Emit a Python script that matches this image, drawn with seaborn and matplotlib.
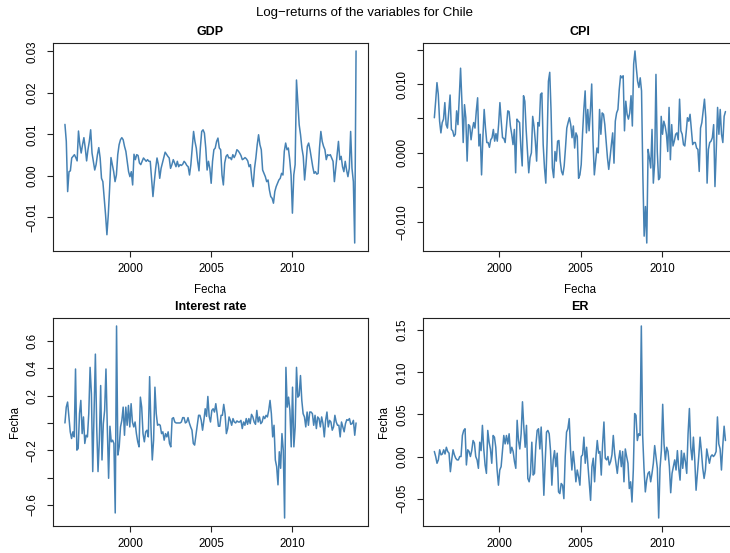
import numpy as np
import matplotlib
matplotlib.use("Agg")
import matplotlib.pyplot as plt
import seaborn as sns

# log-returns (monthly, 1996-01 .. 2013-12)
gdp = np.array([
    12.4, 8.3, -3.8, 1.0, 1.2, 4.3, 4.7, 5.1, 4.4, 3.6,
    10.8, 7.5, 5.5, 7.5, 9.2, 6.7, 3.6, 6.3, 8.3, 11.1,
    5.5, 3.5, 1.4, 2.7, 5.1, 6.8, 4.3, -0.6, -1.4, -5.4,
    -9.4, -14.2, -9.4, -3.0, 4.4, 2.7, 1.0, -1.4, 0.2, 5.1,
    7.5, 8.7, 9.2, 8.7, 7.1, 5.9, 3.5, 1.0, -0.2, 1.0,
    -2.2, 5.2, 3.9, 5.1, 4.9, 3.1, 2.7, 3.5, 4.3, 3.9,
    3.5, 3.9, 3.5, 3.5, -0.6, -5.0, -1.4, 1.8, 4.3, 2.7,
    -0.6, 1.8, 3.1, 4.3, 5.7, 5.2, 4.7, 4.3, 1.8, 2.7,
    3.9, 3.1, 2.2, 3.5, 2.2, 2.7, 2.5, 2.8, 3.5, 3.1,
    2.5, 2.2, 0.2, 2.7, 6.7, 10.7, 8.3, 6.7, 3.5, 1.2,
    6.7, 10.7, 11.1, 10.3, 6.7, 1.4, 3.5, 1.8, -1.8, 3.5,
    6.3, 6.7,
    8.3, 9.1, 6.7, 6.3, 0.2, -2.2, 3.1, 4.7, 5.1, 4.3,
    4.4, 3.9, 5.1, 4.4, 5.1, 6.3, 6.0, 5.5, 4.9, 3.9,
    4.1, 4.4, 4.1, 3.6, 2.2, 2.7, -0.6, -2.6, 1.8, 4.3,
    7.5, 9.9, 7.5, 6.3, 1.4, 0.6, -0.2, -1.4, -1.0, -3.4,
    -5.0, -5.4, -6.6, -3.8, -2.6, -1.8, -1.0, -0.6, 0.6, 0.2,
    5.9, 7.9, 6.3, 6.7, 3.9, 0.2, -9.0, 0.2, 2.7, 23.1,
    17.9, 12.3, 9.9, 6.7, 4.7, -1.0, 2.7, 7.1, 7.9, 6.3,
    4.3, 2.2, 0.6, 1.0, 0.4, 0.6, 6.7, 10.7, 8.3, 7.1,
    6.3, 3.9, 5.1, 4.9, 5.1, 4.3, 3.5, -1.4, 1.8, 5.1,
    8.3, 3.9, 4.7, 2.2, 1.0, 3.5, 1.4, -0.2, 1.8, 10.7,
    1.8, -1.4, -16.2, 30.1,
]) / 1000

cpi = np.array([
    5.1, 7.5, 10.2, 8.5, 4.6, 2.9, 4.4, 4.9, 7.3, 4.1,
    3.6, 6.1, 8.4, 3.4, 3.2, 2.4, 2.7, 6.1, 4.1, 8.0,
    12.3, 7.5, 1.5, 7.0, 5.1, -1.2, 4.1, 3.9, 1.9, 3.4,
    4.4, 3.6, 6.1, 8.0, 1.0, 2.7, -3.2, 2.2, 6.3, 3.6,
    1.5, 1.5, 0.8, 1.9, 2.2, 3.4, 1.7, 2.8, 1.7, 4.1,
    7.3, 4.6, 2.2, 2.1, 1.5, 3.9, 6.1, 6.0, 3.9, 2.7,
    1.2, 3.4, -2.9, 4.9, 4.6, 4.4, 0.7, -1.9, 8.3, 7.5,
    3.4, 0.2, -2.9, -0.7, 0.0, 5.3, 3.9, 1.7, -1.2, 4.4,
    3.9, 8.5, 8.7, 1.2, -2.2, -4.4, 1.7, 10.4,
    11.7, 6.1, -2.2, -3.6, 0.2, -1.2, 1.7, 1.8, -1.2, -2.7,
    -3.2, -1.9, 0.7, 3.6, 4.4, 5.1, 4.1, 2.2, 3.9, 0.7,
    2.9, 2.4, -3.7, -3.2, -1.7, 2.7, 6.3, 9.0, 2.9, 6.3,
    3.2, 6.1, 10.0, 1.7, -3.2, -1.2, 0.7, 0.0, 6.3, 2.7,
    5.8, 5.6, 4.1, 1.7, -0.7, -2.4, -0.7, 1.2, 2.9, -1.5,
    4.6, 5.8, 6.3, 9.2, 11.2, 10.9, 11.2, 3.2, 7.5, 5.6,
    4.9, 5.8, 8.3, 3.9, 12.9, 14.8, 12.4, 10.4, 9.5, 10.9,
    9.0, -3.2, -12.1, -7.8, -13.1, 0.5, -0.7, -2.2, 3.4, -4.4,
    -1.5, 11.4, 0.2, -3.9, -3.6, 5.3, 2.7, 4.6, 3.9, 2.7,
    0.2, 6.6, -1.0, 4.1, 1.0, 1.7, 2.7, 2.9, 1.9, 7.8,
    3.2, 2.7, 1.2, 1.0, 2.9, 5.1, 4.6, 5.6, 3.4, 1.2,
    1.5, 1.5, 0.7, 0.5, -2.7, 3.6, 4.4, 6.1, 7.8, 5.1,
    -4.4, 0.5, 1.5, 1.7, 2.2, 4.1, -4.9, 0.5, 6.6, 2.7,
    6.3, 2.7, 1.5, 5.3, 6.0,
]) / 1000

interest = np.array([
    0.0, 0.116, 0.153, 0.044, -0.065, -0.114, -0.065, -0.102, 0.395, -0.199,
    -0.187, 0.068, 0.165, -0.078, 0.044, -0.150, -0.090, -0.102, 0.068, 0.407,
    0.213, -0.356, 0.068, 0.504, -0.029, -0.356, -0.126, 0.274, -0.271, -0.005,
    0.092, 0.395, -0.029, -0.405, -0.024, -0.138, -0.126, -0.150, -0.659, 0.710,
    -0.235, -0.175, -0.029, 0.019, 0.116, -0.090, 0.116, -0.017, 0.128, -0.029,
    0.141, 0.007, -0.029, 0.007, -0.078, -0.138, -0.175, 0.189, 0.116, -0.078,
    -0.138, -0.065, -0.053, -0.102, 0.339, -0.029, -0.271, -0.126, 0.262, 0.068,
    -0.017, -0.010, -0.017, -0.078, -0.065, -0.126, -0.078, -0.102, -0.065, -0.150,
    -0.175, 0.032, 0.039, 0.007, 0.0, 0.0, 0.0, 0.0, 0.007, 0.039,
    0.039, 0.0, 0.007, 0.039, 0.0, -0.029, -0.053, -0.150, -0.162, -0.090,
    -0.017, 0.056, 0.056, 0.019, -0.053, 0.019, 0.104, 0.048, 0.194, 0.048,
    0.007, 0.092, 0.104,
    0.080, 0.141, 0.068, -0.024, -0.024, 0.056, 0.056, 0.136, 0.068, -0.078,
    -0.041, 0.044, 0.019, -0.017, 0.032, 0.007, 0.0, 0.015, 0.007, 0.007,
    0.019, -0.041, 0.007, -0.017, 0.032, -0.010, 0.032, -0.005, 0.063, 0.044,
    0.007, -0.010, 0.092, 0.007, 0.044, -0.005, 0.007, 0.048, 0.032, 0.056,
    0.044, 0.092, 0.165, 0.068, -0.102, -0.017, -0.271, -0.320, -0.453, -0.211,
    -0.332, -0.078, -0.199, -0.696, 0.407, 0.116, 0.189, 0.092, -0.175, 0.262,
    -0.175, -0.029, 0.407, 0.189, 0.201, 0.347, 0.165, 0.068, 0.044, -0.029,
    0.080, -0.017, 0.080, 0.080, 0.068, -0.017, 0.056, -0.041, 0.044, 0.032,
    -0.029, 0.044, -0.005, -0.102, 0.019, 0.080, -0.029, 0.019, 0.007, -0.053,
    -0.029, 0.056, 0.007, -0.017, -0.017, -0.102, 0.007, -0.029, -0.065, -0.005,
    0.024, 0.019, 0.032, -0.010, -0.005, 0.019, -0.090, 0.0,
])

er = np.array([
    0.006, 0.0, -0.008, -0.004, 0.008, 0.002, 0.003, 0.008, 0.003, 0.011,
    0.006, 0.004, -0.018, -0.004, 0.008, 0.002, -0.002, -0.004, -0.004, 0.0,
    0.0, 0.025, 0.031, 0.033, -0.010, 0.008, 0.006, 0.0, 0.007, 0.019,
    0.016, 0.0, -0.004, -0.014, 0.017, 0.007, 0.037, 0.009, -0.010, -0.020,
    0.031, 0.017, 0.009, -0.008, 0.025, 0.023, 0.011, -0.016, -0.034, -0.016,
    -0.012, 0.007, 0.025, 0.015, 0.025, 0.015, 0.027, 0.004, 0.011, 0.006,
    -0.006, -0.014, 0.043, 0.019, 0.009, 0.027, 0.065, 0.035, 0.011, 0.037,
    -0.026, -0.030, -0.020, 0.017, -0.022, -0.020, 0.013, 0.031, 0.033, 0.009,
    0.035, 0.0, -0.046, -0.006, 0.029, 0.031, 0.027,
    0.007, -0.034, -0.004, 0.007, -0.012, 0.004, -0.042, -0.044, -0.032, -0.034,
    -0.050, 0.0, 0.029, 0.033, 0.045, 0.007, -0.016, 0.006, -0.010, -0.030,
    -0.016, -0.024, -0.034, 0.0, 0.002, 0.023, -0.008, 0.011, -0.010, -0.030,
    -0.052, -0.012, -0.002, -0.030, 0.0, 0.019, 0.004, 0.006, -0.022, 0.015,
    0.041, -0.002, -0.004, 0.0, -0.010, -0.006, 0.002, 0.025, 0.004, -0.008,
    -0.020, -0.004, 0.007, -0.012, 0.006, -0.030, 0.009, 0.0, -0.008, -0.038,
    -0.030, -0.054, -0.016, 0.051, 0.049, 0.019, 0.027, 0.025, 0.155, 0.025,
    -0.014, -0.042, -0.028, -0.020, -0.018, -0.030, -0.020, -0.008, 0.013, 0.0,
    -0.014, -0.073, -0.014, 0.007, 0.062, 0.015, -0.004, 0.011, 0.006, -0.012,
    -0.043, -0.020, -0.012, -0.004, -0.016, 0.007, -0.014, -0.028, 0.007, -0.014,
    0.004, -0.006, -0.020, 0.027, 0.057, 0.011, -0.004, 0.023, -0.004, -0.040,
    -0.020, 0.0, 0.023, 0.006, -0.014, -0.026, -0.016, 0.009, 0.0, -0.008,
    0.0, 0.002, 0.0, 0.002, 0.006, 0.047, 0.015, 0.009, -0.016, 0.013,
    0.036, 0.019,
])

titles = ["GDP", "CPI", "Interest rate", "ER"]
series = [gdp, cpi, interest, er]
yticks = [
    [-0.01, 0.0, 0.01, 0.02, 0.03],
    [-0.010, -0.005, 0.0, 0.005, 0.010, 0.015],
    [-0.6, -0.4, -0.2, 0.0, 0.2, 0.4, 0.6],
    [-0.05, 0.0, 0.05, 0.10, 0.15],
]
ytick_labels = [
    ["\u22120.01", "0.00", "0.01", "0.02", "0.03"],
    ["\u22120.010", "", "0.000", "", "0.010", ""],
    ["\u22120.6", "", "\u22120.2", "", "0.2", "0.4", "0.6"],
    ["\u22120.05", "0.00", "0.05", "0.10", "0.15"],
]
year_ticks = [2000, 2005, 2010]

sns.set_style("ticks")
plt.rcParams["font.family"] = ["Liberation Sans", "DejaVu Sans"]
plt.rcParams["axes.linewidth"] = 0.8
plt.rcParams["text.color"] = "black"
plt.rcParams["axes.labelcolor"] = "black"
plt.rcParams["xtick.color"] = "black"
plt.rcParams["ytick.color"] = "black"

fig = plt.figure(figsize=(7.3, 5.53), dpi=100)
W, H = 730, 553
boxes = [(53.3, 43.3), (422.7, 43.3), (53.3, 318.3), (422.7, 318.3)]
bw, bh = 314.4, 207.4

for i, (title, vals) in enumerate(zip(titles, series)):
    x0, y0 = boxes[i]
    ax = fig.add_axes([x0 / W, 1 - (y0 + bh) / H, bw / W, bh / H])
    years = np.linspace(1996, 2013 + 11 / 12, len(vals))
    sns.lineplot(x=years, y=vals, ax=ax, color="#4682b4", linewidth=1.1)
    ax.margins(x=0.04, y=0.04)
    for s in ax.spines.values():
        s.set_color("#222222")
        s.set_visible(True)
    ax.set_xticks(year_ticks)
    ax.set_xticklabels([str(y) for y in year_ticks])
    ax.set_yticks(yticks[i])
    ax.set_yticklabels(ytick_labels[i])
    ax.tick_params(axis="both", direction="out", length=4, width=0.8,
                   color="#222222", labelsize=8.3, labelcolor="black")
    ax.tick_params(axis="x", pad=4.5)
    ax.tick_params(axis="y", pad=6.5)
    for lab in ax.get_yticklabels():
        lab.set_rotation(90)
        lab.set_va("center")
        lab.set_ha("right")
    ax.set_title(title, fontweight="bold", fontsize=9, pad=6, color="black")
    if i < 2:
        ax.set_xlabel("Fecha", fontsize=8.3)
        ax.xaxis.set_label_coords(0.5, -(290 - 250.7) / bh)
        ax.xaxis.label.set_va("center")
        ax.set_ylabel("")
    else:
        ax.set_xlabel("")
        ax.set_ylabel("Fecha", fontsize=8.3)
        ax.yaxis.set_label_coords((14.5 - 53.3) / bw, 0.5)
        ax.yaxis.label.set_va("center")

fig.text(0.5, 1 - 13 / H, "Log\u2212returns of the variables for Chile",
         ha="center", va="center", fontsize=9.5)

fig.savefig("out.png", dpi=100)
